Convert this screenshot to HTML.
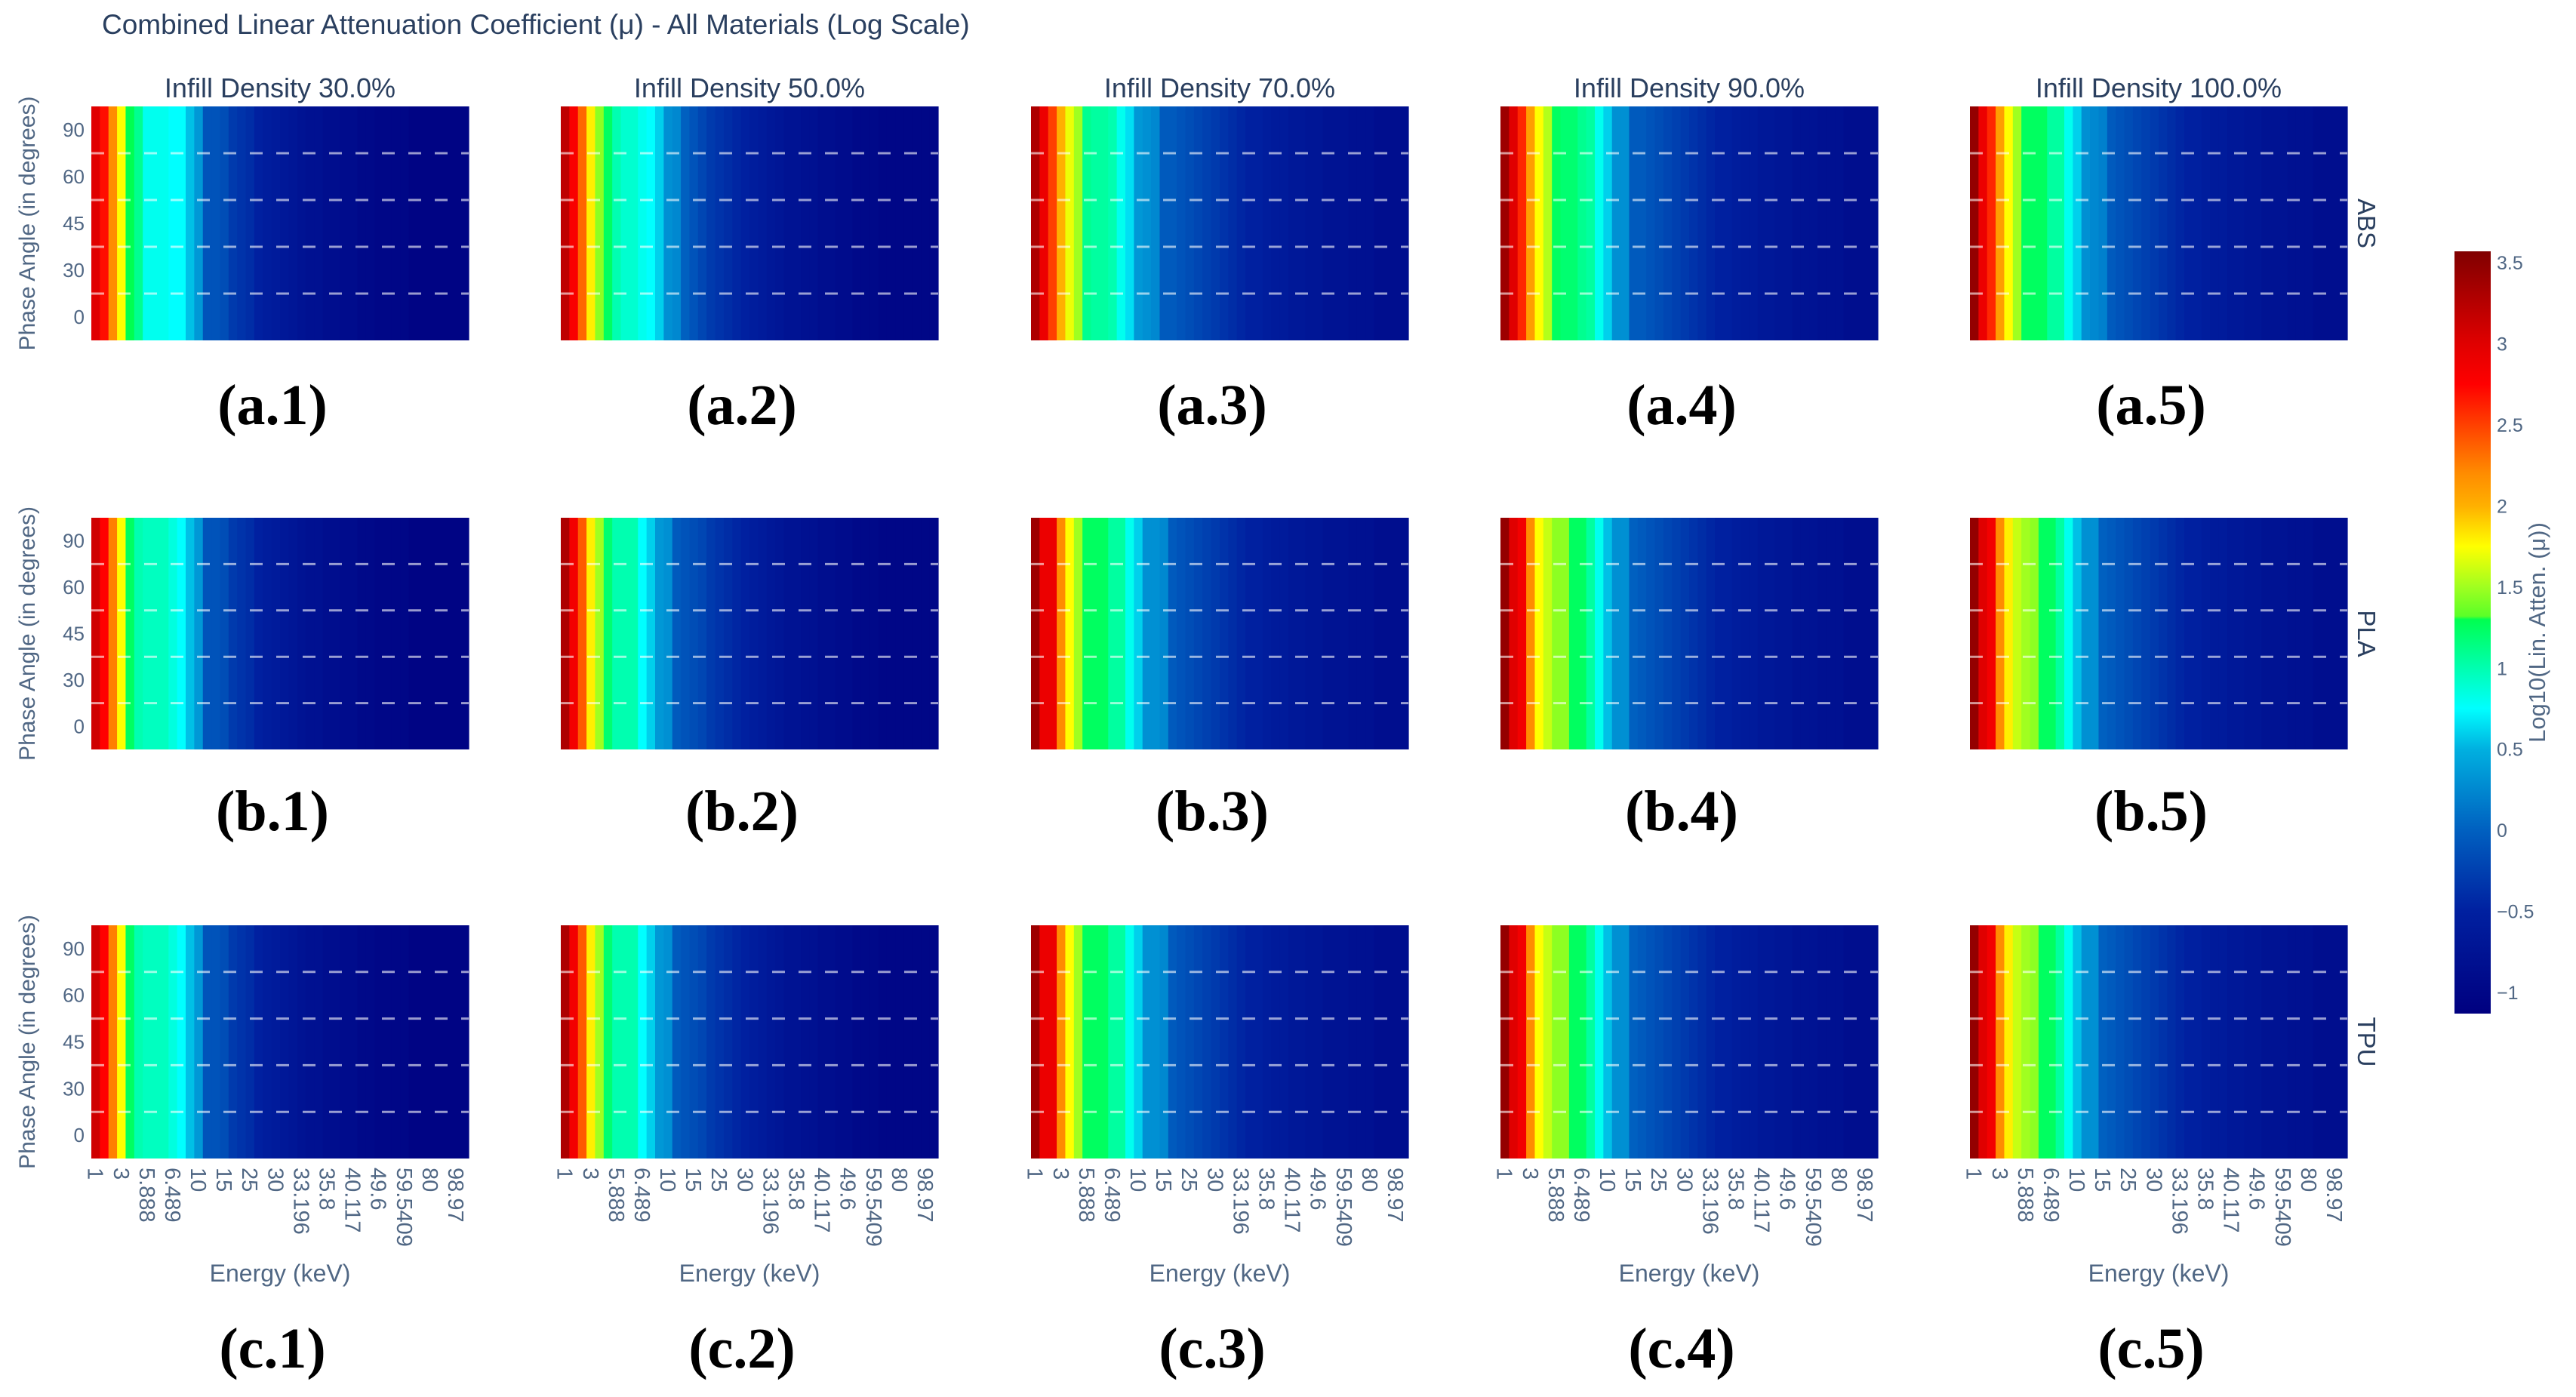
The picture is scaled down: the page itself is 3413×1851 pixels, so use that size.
<!DOCTYPE html>
<html><head><meta charset="utf-8">
<style>
html,body{margin:0;padding:0;background:#fff;}
svg{display:block;font-family:"Liberation Sans",sans-serif;}
</style></head>
<body>
<svg id="chart" width="3413" height="1851" viewBox="0 0 3413 1851" xmlns="http://www.w3.org/2000/svg">
<defs>
<linearGradient id="cbgrad" x1="0" y1="1" x2="0" y2="0"></linearGradient>
</defs>
<text x="135" y="45" font-size="37" fill="#2a3f5f">Combined Linear Attenuation Coefficient (μ) - All Materials (Log Scale)</text>
<g id="panels"></g>
<g id="colorbar"></g>
</svg>
<script>
// ---- data ----
const energies = [1,2,2.5,3,4,5,5.888,6,6.2,6.489,8,9,10,12,14,15,20,22,25,27,28,30,32,33,33.196,34,35,35.8,38,39,40.117,45,48,49.6,55,58,59.5409,65,70,80,85,90,98.97,100];
const tickIdx = [0,3,6,9,12,15,18,21,24,27,30,33,36,39,42];
const angles = [0,30,45,60,90];
const densities = ["30.0","50.0","70.0","90.0","100.0"];
const materials = ["ABS","PLA","TPU"];
const cbTicks = [3.5,3,2.5,2,1.5,1,0.5,0,-0.5,-1];
const tailDark = [-0.3,-0.35,-0.4,-0.5,-0.55,-0.6,-0.65,-0.7,-0.75,-0.8,-0.8,-0.85,-0.85,-0.9,-0.9,-0.95,-0.95,-1.0,-1.0,-1.0,-1.0,-1.05,-1.05,-1.05,-1.05,-1.05,-1.05,-1.05];
const tailMid = [-0.2,-0.3,-0.35,-0.4,-0.45,-0.5,-0.55,-0.6,-0.65,-0.7,-0.75,-0.75,-0.8,-0.8,-0.85,-0.85,-0.9,-0.9,-0.95,-0.95,-0.95,-1.0,-1.0,-1.0,-1.0,-1.0,-1.0,-1.0];
const tailLight = [-0.05,-0.1,-0.15,-0.2,-0.25,-0.3,-0.35,-0.4,-0.45,-0.5,-0.5,-0.55,-0.6,-0.6,-0.65,-0.65,-0.7,-0.7,-0.75,-0.75,-0.75,-0.8,-0.8,-0.8,-0.85,-0.85,-0.85,-0.85];
const absHeads = [
 [3.0,2.7,2.2,1.75,1.3,1.1,0.8,0.8,0.8,0.75,0.75,0.55,0.35,-0.1,-0.1,-0.15],
 [3.2,2.8,2.35,1.8,1.45,1.25,1.0,0.9,0.9,0.8,0.75,0.6,0.3,0.25,0.0,-0.1],
 [3.3,2.9,2.5,2.0,1.7,1.5,1.1,1.05,1.05,1.0,0.8,0.65,0.35,0.3,0.25,-0.05],
 [3.4,3.0,2.6,2.1,1.75,1.55,1.25,1.2,1.2,1.1,1.05,0.8,0.6,0.3,0.3,-0.05],
 [3.45,2.9,2.6,2.1,1.75,1.5,1.25,1.25,1.25,1.05,1.05,0.8,0.6,0.3,0.25,0.2]];
const plaHeads = [
 [3.1,2.75,2.25,1.75,1.25,1.0,0.95,0.95,0.95,0.85,0.75,0.55,0.35,-0.1,-0.1,-0.15],
 [3.3,2.85,2.4,1.8,1.5,1.2,1.0,1.0,1.0,0.75,0.6,0.35,0.3,-0.05,-0.1,-0.15],
 [3.4,2.9,2.9,2.2,1.75,1.5,1.25,1.25,1.25,1.05,1.05,0.8,0.6,0.3,0.3,0.25],
 [3.45,3.0,2.85,2.2,1.75,1.6,1.45,1.45,1.25,1.25,1.05,0.8,0.55,0.3,0.3,0.0],
 [3.45,3.0,2.85,2.2,1.8,1.6,1.5,1.45,1.25,1.25,1.05,0.8,0.55,0.3,0.3,0.0]];
const tpuHeads = [
 [3.1,2.75,2.25,1.75,1.25,1.0,0.95,0.95,0.95,0.85,0.75,0.55,0.35,-0.1,-0.1,-0.15],
 [3.3,2.85,2.4,1.8,1.5,1.2,1.0,1.0,1.0,0.75,0.6,0.35,0.3,-0.05,-0.1,-0.15],
 [3.4,2.9,2.9,2.2,1.75,1.5,1.25,1.25,1.25,1.05,1.05,0.8,0.6,0.3,0.3,0.25],
 [3.45,3.0,2.85,2.2,1.75,1.6,1.45,1.45,1.25,1.25,1.05,0.8,0.55,0.3,0.3,0.0],
 [3.45,3.0,2.85,2.2,1.8,1.6,1.5,1.45,1.25,1.25,1.05,0.8,0.55,0.3,0.3,0.0]];
const tails = [tailDark, tailMid, tailLight, tailLight, tailLight];
// ---- layout ----
const NS="http://www.w3.org/2000/svg";
const colX=[121,743,1366,1988,2610], pw=500;
const rowY=[[141,451],[686,993],[1226,1535]];
const zMin=-1.13, zMax=3.57;
const stops=[[-1.13,[0,0,128]],[-0.5,[0,32,160]],[0,[0,96,192]],[0.5,[0,176,224]],[0.75,[0,255,255]],[1.0,[0,255,176]],[1.3,[0,255,80]],[1.32,[90,255,40]],[1.5,[160,255,32]],[1.75,[255,255,0]],[2.0,[255,176,0]],[2.2,[255,140,0]],[2.5,[255,64,0]],[2.75,[255,0,0]],[3.0,[224,0,0]],[3.57,[128,0,0]]];
function color(v){
  if(v<=stops[0][0])return `rgb(${stops[0][1]})`;
  for(let i=1;i<stops.length;i++){ if(v<=stops[i][0]){const a=stops[i-1],b=stops[i];const t=(v-a[0])/(b[0]-a[0]);
    return `rgb(${a[1].map((c,k)=>Math.round(c+(b[1][k]-c)*t)).join(',')})`;}}
  return `rgb(${stops[stops.length-1][1]})`;
}
function mk(tag,attrs,parent){const e=document.createElementNS(NS,tag);for(const k in attrs)e.setAttribute(k,attrs[k]);parent.appendChild(e);return e;}
const panels=document.getElementById('panels');
const heads=[absHeads,plaHeads,tpuHeads];
const letters=['a','b','c'];
const labelY=[562,1100,1812];
for(let r=0;r<3;r++){
  const [y0,y1]=rowY[r];
  const rh=(y1-y0)/angles.length;
  const ys=k=>y1-(k+0.5)*rh; // categorical index -> center
  for(let c=0;c<5;c++){
    const x0=colX[c];
    const vals=heads[r][c].concat(tails[c]);
    const cw=pw/energies.length;
    const xs=i=>x0+i*cw;
    const g=mk('g',{},panels);
    
    
    for(let i=0;i<energies.length;i++){
      const cell=mk('rect',{x:xs(i).toFixed(2),y:y0,width:(cw+0.6).toFixed(2),height:y1-y0,fill:color(vals[i])},g);
      
      
    }
    for(let k=0;k<angles.length-1;k++){
      const yb=(ys(k)+ys(k+1))/2;
      const dl=mk('line',{x1:x0,x2:x0+pw,y1:yb,y2:yb,stroke:'rgba(255,255,255,0.6)','stroke-width':3,'stroke-dasharray':'17 18'},g);
      
      
    }
    if(c===0){
      angles.forEach((t,k)=>{const tl=mk('text',{x:x0-9,y:ys(k)+9,'text-anchor':'end','font-size':26,fill:'#506784'},panels);tl.textContent=t;
        });
      const yt=mk('text',{x:0,y:0,transform:`translate(46,${(y0+y1)/2}) rotate(-90)`,'text-anchor':'middle','font-size':30,fill:'#506784'},panels);
      yt.textContent='Phase Angle (in degrees)';
      
    }
    if(r===0){
      const st=mk('text',{x:x0+pw/2,y:129,'text-anchor':'middle','font-size':36,fill:'#2a3f5f'},panels);
      st.textContent=`Infill Density ${densities[c]}%`;
      
    }
    if(r===2){
      tickIdx.forEach(i=>{const tl=mk('text',{x:0,y:0,transform:`translate(${xs(i)+cw/2-10},${y1+12}) rotate(90)`,'font-size':29,fill:'#506784'},panels);tl.textContent=energies[i];
        });
      const xt=mk('text',{x:x0+pw/2,y:1698,'text-anchor':'middle','font-size':32,fill:'#506784'},panels);
      xt.textContent='Energy (keV)';
      
    }
    if(c===4){
      const ml=mk('text',{x:0,y:0,transform:`translate(3124,${(y0+y1)/2}) rotate(90)`,'text-anchor':'middle','font-size':33,fill:'#2a3f5f'},panels);
      ml.textContent=materials[r];
      
    }
    const pl=mk('text',{x:x0+pw/2-10,y:labelY[r],'text-anchor':'middle','font-size':76,'font-weight':'bold','font-family':'"Liberation Serif",serif',fill:'#000'},panels);
    pl.textContent=`(${letters[r]}.${c+1})`;
    
  }
}
// colorbar
const grad=document.getElementById('cbgrad');
stops.forEach(s=>mk('stop',{offset:((s[0]-zMin)/(zMax-zMin)).toFixed(4),'stop-color':`rgb(${s[1]})`},grad));
const cb=document.getElementById('colorbar');
const cbx=3252,cbw=48,cby0=333,cby1=1343;
const cys=v=>cby1-(v-zMin)/(zMax-zMin)*(cby1-cby0);
const cbr=mk('rect',{x:cbx,y:cby0,width:cbw,height:cby1-cby0,fill:'url(#cbgrad)'},cb);

cbTicks.forEach(t=>{const tl=mk('text',{x:cbx+cbw+8,y:cys(t)+9,'font-size':25,fill:'#506784'},cb);tl.textContent=String(t).replace('-','\u2212');
  });
const ct=mk('text',{x:0,y:0,transform:`translate(3372,${(cby0+cby1)/2}) rotate(-90)`,'text-anchor':'middle','font-size':31,fill:'#506784'},cb);
ct.textContent='Log10(Lin. Atten. (μ))';

</script>
</body></html>
